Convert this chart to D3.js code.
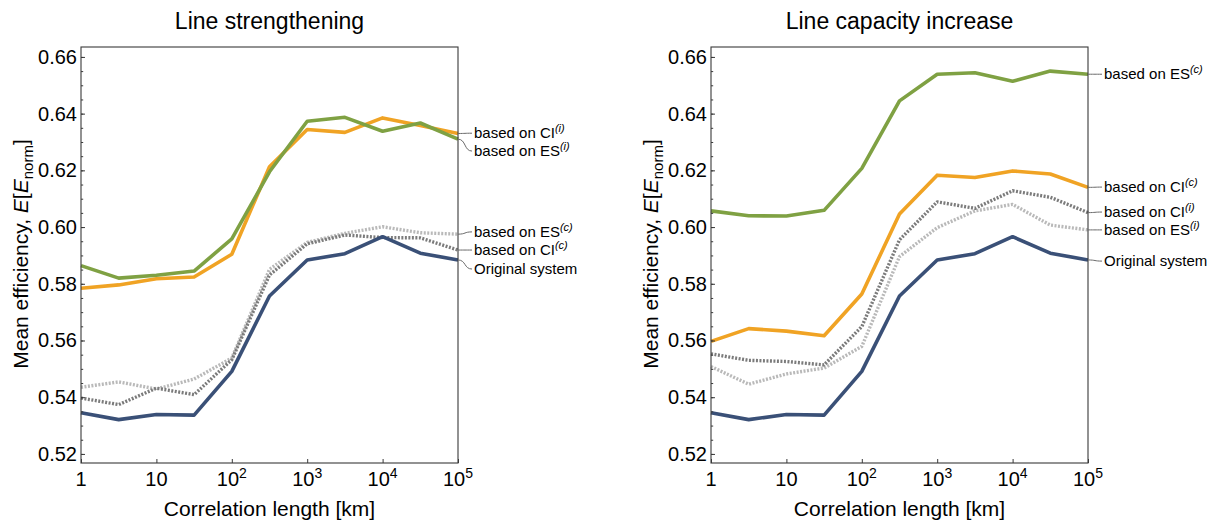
<!DOCTYPE html>
<html lang="en">
<head>
<meta charset="utf-8">
<title>Mean efficiency vs correlation length</title>
<script src="https://cdn.jsdelivr.net/npm/d3@7"></script>
<style>
  body { margin: 0; background: #fff; }
  svg { display: block; font-family: "Liberation Sans", Arial, sans-serif; }
</style>
</head>
<body>
<script>
// correlation length [km], half-decade steps
var lengths = [1, 3.1623, 10, 31.623, 100, 316.23, 1000, 3162.3, 10000, 31623, 100000];
var xTickValues = [1, 10, 100, 1000, 10000, 100000];
var xTickLabels = ["1", "10", "10|2", "10|3", "10|4", "10|5"];
var yTickValues = [0.52, 0.54, 0.56, 0.58, 0.60, 0.62, 0.64, 0.66];

var originalSystem = [0.5345, 0.5321, 0.5339, 0.5337, 0.5491, 0.5757, 0.5884, 0.5906, 0.5966, 0.5908, 0.5884];

// Line strengthening
var strengthCIi = [0.5784, 0.5796, 0.5818, 0.5824, 0.5904, 0.6213, 0.6344, 0.6334, 0.6385, 0.6358, 0.6330];
var strengthESi = [0.5864, 0.5820, 0.5830, 0.5845, 0.5958, 0.6195, 0.6373, 0.6387, 0.6338, 0.6367, 0.6310];
var strengthESc = [0.5435, 0.5454, 0.5429, 0.5464, 0.5538, 0.5851, 0.5946, 0.5978, 0.6001, 0.5980, 0.5975];
var strengthCIc = [0.5397, 0.5374, 0.5432, 0.5409, 0.5532, 0.5831, 0.5941, 0.5972, 0.5963, 0.5962, 0.5919];

// Line capacity increase
var capacityESc = [0.6057, 0.6040, 0.6039, 0.6059, 0.6207, 0.6445, 0.6539, 0.6544, 0.6514, 0.6550, 0.6539];
var capacityCIc = [0.5597, 0.5642, 0.5633, 0.5617, 0.5764, 0.6046, 0.6183, 0.6175, 0.6198, 0.6187, 0.6140];
var capacityCIi = [0.5553, 0.5530, 0.5526, 0.5514, 0.5649, 0.5955, 0.6089, 0.6066, 0.6128, 0.6105, 0.6051];
var capacityESi = [0.5508, 0.5446, 0.5482, 0.5503, 0.5579, 0.5896, 0.5998, 0.6057, 0.6080, 0.6007, 0.5990];

var colors = {
  orig: "#3a5077",
  orange: "#f0a324",
  green: "#7fa143",
  darkDot: "#7b7b7b",
  lightDot: "#b9b9b9"
};

var panels = [
  {
    title: "Line strengthening",
    left: 81,
    series: [
      {values: strengthESc, color: colors.lightDot, dotted: true, name: "ES", sup: "c", labelAt: 0.5983},
      {values: strengthCIc, color: colors.darkDot, dotted: true, name: "CI", sup: "c", labelAt: 0.5919},
      {values: originalSystem, color: colors.orig, name: "Original system", labelAt: 0.5852},
      {values: strengthCIi, color: colors.orange, name: "CI", sup: "i", labelAt: 0.6331},
      {values: strengthESi, color: colors.green, name: "ES", sup: "i", labelAt: 0.6268}
    ]
  },
  {
    title: "Line capacity increase",
    left: 711,
    series: [
      {values: capacityESi, color: colors.lightDot, dotted: true, name: "ES", sup: "i", labelAt: 0.5990},
      {values: capacityCIi, color: colors.darkDot, dotted: true, name: "CI", sup: "i", labelAt: 0.6053},
      {values: originalSystem, color: colors.orig, name: "Original system", labelAt: 0.5880},
      {values: capacityCIc, color: colors.orange, name: "CI", sup: "c", labelAt: 0.6141},
      {values: capacityESc, color: colors.green, name: "ES", sup: "c", labelAt: 0.6539}
    ]
  }
];

var W = 1229, H = 525,
    plotW = 377,
    plotTop = 47, plotBottom = 463;

var svg = d3.select("body").append("svg")
  .attr("width", W)
  .attr("height", H);

panels.forEach(drawPanel);

function drawPanel(p) {
  var x = d3.scaleLog().domain([1, 1e5]).range([p.left, p.left + plotW]);
  var y = d3.scaleLinear().domain([0.5168, 0.6635]).range([plotBottom, plotTop]);

  var g = svg.append("g");

  // title
  g.append("text")
    .attr("x", p.left + plotW / 2)
    .attr("y", 29)
    .attr("text-anchor", "middle")
    .style("font-size", "23px")
    .text(p.title);

  // series
  var line = d3.line()
    .x(function(d, i) { return x(lengths[i]); })
    .y(function(d) { return y(d); });

  p.series.forEach(function(s) {
    g.append("path")
      .attr("d", line(s.values))
      .attr("fill", "none")
      .attr("stroke", s.color)
      .attr("stroke-width", s.dotted ? 3.4 : 3.6)
      .attr("stroke-dasharray", s.dotted ? "2,1.5" : null)
      .attr("stroke-linejoin", "round");
  });

  // frame
  g.append("rect")
    .attr("x", p.left)
    .attr("y", plotTop)
    .attr("width", plotW)
    .attr("height", plotBottom - plotTop)
    .attr("fill", "none")
    .attr("stroke", "#3a3a3a")
    .attr("stroke-width", 1.1);

  // y axis, ticks pointing inwards
  var yAxis = d3.axisRight(y)
    .tickValues(yTickValues)
    .tickSize(4)
    .tickFormat("");
  var ya = g.append("g")
    .attr("transform", "translate(" + p.left + ",0)")
    .call(yAxis);
  ya.select(".domain").remove();
  ya.selectAll("line").attr("stroke", "#3a3a3a");

  var yMinor = d3.axisRight(y)
    .tickValues(d3.range(0.52, 0.6601, 0.005))
    .tickSize(2.2)
    .tickFormat("");
  var ym = g.append("g")
    .attr("transform", "translate(" + p.left + ",0)")
    .call(yMinor);
  ym.select(".domain").remove();
  ym.selectAll("line").attr("stroke", "#3a3a3a");

  g.selectAll(".ylab")
    .data(yTickValues)
    .join("text")
    .attr("x", p.left - 4)
    .attr("y", function(d) { return y(d) + 7; })
    .attr("text-anchor", "end")
    .style("font-size", "20px")
    .text(d3.format(".2f"));

  // x axis, ticks inwards
  var xAxis = d3.axisTop(x)
    .tickValues(xTickValues)
    .tickSize(4)
    .tickFormat("");
  var xa = g.append("g")
    .attr("transform", "translate(0," + plotBottom + ")")
    .call(xAxis);
  xa.select(".domain").remove();
  xa.selectAll("line").attr("stroke", "#3a3a3a");

  var xl = g.selectAll(".xlab")
    .data(xTickValues)
    .join("text")
    .attr("x", function(d) { return x(d); })
    .attr("y", 486)
    .attr("text-anchor", "middle")
    .style("font-size", "20px");
  xl.each(function(d, i) {
    var parts = xTickLabels[i].split("|");
    var t = d3.select(this);
    t.append("tspan").text(parts[0]);
    if (parts[1]) {
      t.append("tspan")
        .attr("dy", -8)
        .style("font-size", "14px")
        .text(parts[1]);
    }
  });

  // axis titles
  g.append("text")
    .attr("x", p.left + plotW / 2)
    .attr("y", 516)
    .attr("text-anchor", "middle")
    .style("font-size", "21px")
    .text("Correlation length [km]");

  var yt = g.append("text")
    .attr("transform", "translate(" + (p.left - 53) + "," + ((plotTop + plotBottom) / 2 - 1) + ")rotate(-90)")
    .attr("text-anchor", "middle")
    .style("font-size", "21px");
  yt.append("tspan").text("Mean efficiency, ");
  yt.append("tspan").style("font-style", "italic").text("E");
  yt.append("tspan").text("[");
  yt.append("tspan").style("font-style", "italic").text("E");
  yt.append("tspan").attr("dy", 5).style("font-size", "15px").text("norm");
  yt.append("tspan").attr("dy", -5).text("]");

  // callout labels at right edge
  var xe = x(1e5);
  p.series.forEach(function(s) {
    var y0 = y(s.values[s.values.length - 1]),
        y1 = y(s.labelAt);
    g.append("path")
      .attr("d", "M" + xe + "," + y0 +
        "C" + (xe + 8) + "," + y0 + " " + (xe + 6) + "," + y1 + " " + (xe + 14) + "," + y1)
      .attr("fill", "none")
      .attr("stroke", "#6a6a6a")
      .attr("stroke-width", 1);

    var t = g.append("text")
      .attr("x", xe + 16)
      .attr("y", y1 + 5)
      .style("font-size", "15px");
    if (s.sup) {
      t.append("tspan").text("based on " + s.name);
      t.append("tspan")
        .attr("dy", -6)
        .style("font-size", "11px")
        .style("font-style", "italic")
        .text("(" + s.sup + ")");
    } else {
      t.text(s.name);
    }
  });
}
</script>
</body>
</html>
